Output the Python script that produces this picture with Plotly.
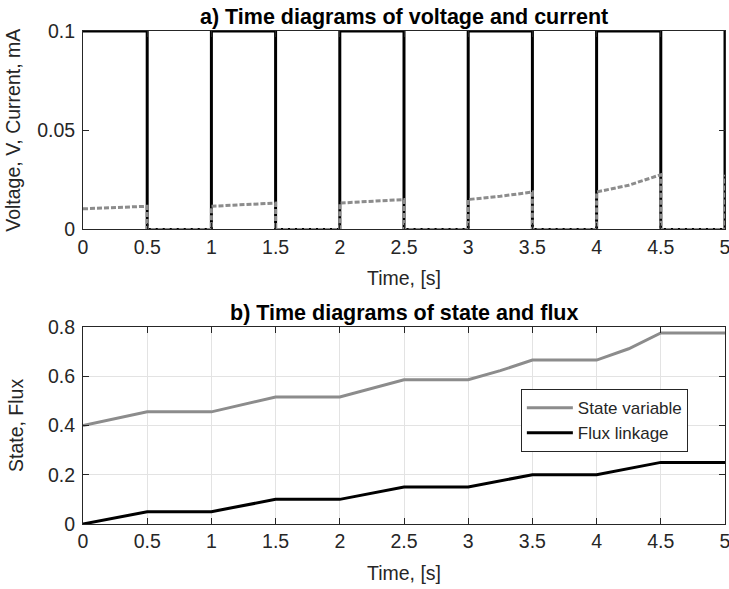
import plotly.graph_objects as go

# ---------------- data ----------------
edges = [0, 0.5, 1, 1.5, 2, 2.5, 3, 3.5, 4, 4.5, 5]
voltage_levels = [0.1, 0, 0.1, 0, 0.1, 0, 0.1, 0, 0.1, 0]   # per half-second segment
voltage_end = 0.1                                           # jump at t = 5

# current during the "on" segments: start, middle, end values (mA)
current_on = [
    [0.0104, 0.0110, 0.0117],
    [0.0117, 0.0124, 0.0133],
    [0.0133, 0.0141, 0.0151],
    [0.0151, 0.0167, 0.0189],
    [0.0189, 0.0223, 0.0276],
]
current_end = 0.0276

t_state = [0, 0.25, 0.5, 1, 1.25, 1.5, 2, 2.25, 2.5, 3, 3.25, 3.5, 4, 4.25, 4.5, 5]
state = [0.40, 0.426, 0.455, 0.455, 0.484, 0.515, 0.515, 0.549, 0.585, 0.585, 0.622, 0.665, 0.665, 0.711, 0.775, 0.775]

t_flux = [0, 0.5, 1, 1.5, 2, 2.5, 3, 3.5, 4, 4.5, 5]
flux = [0, 0.05, 0.05, 0.10, 0.10, 0.15, 0.15, 0.20, 0.20, 0.25, 0.25]

x_ticks = [0, 0.5, 1, 1.5, 2, 2.5, 3, 3.5, 4, 4.5, 5]
x_ticklabels = ["0", "0.5", "1", "1.5", "2", "2.5", "3", "3.5", "4", "4.5", "5"]
ya_ticks = [0, 0.05, 0.1]
ya_ticklabels = ["0", "0.05", "0.1"]
yb_ticks = [0, 0.2, 0.4, 0.6, 0.8]
yb_ticklabels = ["0", "0.2", "0.4", "0.6", "0.8"]

# ---------------- build step traces ----------------
tv, vv = [], []
for k, lev in enumerate(voltage_levels):
    tv += [edges[k], edges[k + 1]]
    vv += [lev, lev]
tv.append(edges[-1]); vv.append(voltage_end)

tc, cc = [], []
on_idx = 0
for k, lev in enumerate(voltage_levels):
    a, b = edges[k], edges[k + 1]
    if lev > 0:
        vals = current_on[on_idx]; on_idx += 1
        tc += [a, (a + b) / 2, b]
        cc += vals
    else:
        tc += [a, b]
        cc += [0, 0]
tc.append(edges[-1]); cc.append(current_end)

FONT = "Liberation Sans, Arial, sans-serif"
TXT = "#262626"
GRAY = "#8c8c8c"
TICK = 19.5
LAB = 19.5
TTL = 21.5

fig = go.Figure()
fig.add_trace(go.Scatter(x=tv, y=vv, mode="lines", line=dict(color="black", width=3),
                         showlegend=False, cliponaxis=False, xaxis="x", yaxis="y"))
fig.add_trace(go.Scatter(x=tc, y=cc, mode="lines", line=dict(color=GRAY, width=3, dash="5px,2px"),
                         showlegend=False, cliponaxis=False, xaxis="x", yaxis="y"))
fig.add_trace(go.Scatter(x=t_state, y=state, mode="lines", line=dict(color=GRAY, width=3),
                         name="State variable", cliponaxis=False, xaxis="x2", yaxis="y2"))
fig.add_trace(go.Scatter(x=t_flux, y=flux, mode="lines", line=dict(color="black", width=3),
                         name="Flux linkage", cliponaxis=False, xaxis="x2", yaxis="y2"))

W = 729; H = 589
L = 82.5; R = 4; T = 30.7; B = 65
ph = H - T - B
pw = W - L - R
def py(pix):
    return (H - B - pix) / ph
def px(pix):
    return (pix - L) / pw

common_axis = dict(showline=True, linecolor=TXT, linewidth=1, mirror="ticks",
                   ticks="inside", ticklen=6, tickcolor=TXT, zeroline=False,
                   ticklabeloverflow="allow", automargin=False,
                   tickfont=dict(family=FONT, size=TICK, color=TXT))

fig.update_layout(
    width=W, height=H,
    margin=dict(l=L, r=R, t=T, b=B, autoexpand=False),
    paper_bgcolor="white", plot_bgcolor="white",
    font=dict(family=FONT, color=TXT),
    xaxis=dict(domain=[0, 1], range=[0, 5], tickvals=x_ticks, ticktext=x_ticklabels,
               anchor="y", showgrid=False,
               title=dict(text="Time, [s]", font=dict(family=FONT, size=LAB, color=TXT), standoff=14),
               **common_axis),
    yaxis=dict(domain=[py(229.3), 1], range=[0, 0.1], tickvals=ya_ticks, ticktext=ya_ticklabels,
               anchor="x", showgrid=False, ticklabelstandoff=3,
               title=dict(text="Voltage, V, Current, mA", font=dict(family=FONT, size=LAB, color=TXT), standoff=11),
               **common_axis),
    xaxis2=dict(domain=[0, 1], range=[0, 5], tickvals=x_ticks, ticktext=x_ticklabels,
                anchor="y2", showgrid=True, gridcolor="#e3e3e3", gridwidth=1,
                title=dict(text="Time, [s]", font=dict(family=FONT, size=LAB, color=TXT), standoff=14),
                **common_axis),
    yaxis2=dict(domain=[0, py(326.7)], range=[0, 0.8], tickvals=yb_ticks, ticktext=yb_ticklabels,
                anchor="x2", showgrid=True, gridcolor="#e3e3e3", gridwidth=1, ticklabelstandoff=3,
                title=dict(text="State, Flux", font=dict(family=FONT, size=LAB, color=TXT), standoff=19),
                **common_axis),
    legend=dict(x=px(520.7), y=py(389), xanchor="left", yanchor="top",
                bgcolor="white", bordercolor=TXT, borderwidth=1, itemwidth=46,
                font=dict(family=FONT, size=17, color=TXT), tracegroupgap=0),
    annotations=[
        dict(text="<b>a) Time diagrams of voltage and current</b>", x=0.5, y=1, xref="paper", yref="paper",
             xanchor="center", yanchor="bottom", yshift=0, showarrow=False,
             font=dict(family=FONT, size=TTL, color="black")),
        dict(text="<b>b) Time diagrams of state and flux</b>", x=0.5, y=py(326.7), xref="paper", yref="paper",
             xanchor="center", yanchor="bottom", yshift=0, showarrow=False,
             font=dict(family=FONT, size=TTL, color="black")),
    ],
)

fig.write_html("out.html")
